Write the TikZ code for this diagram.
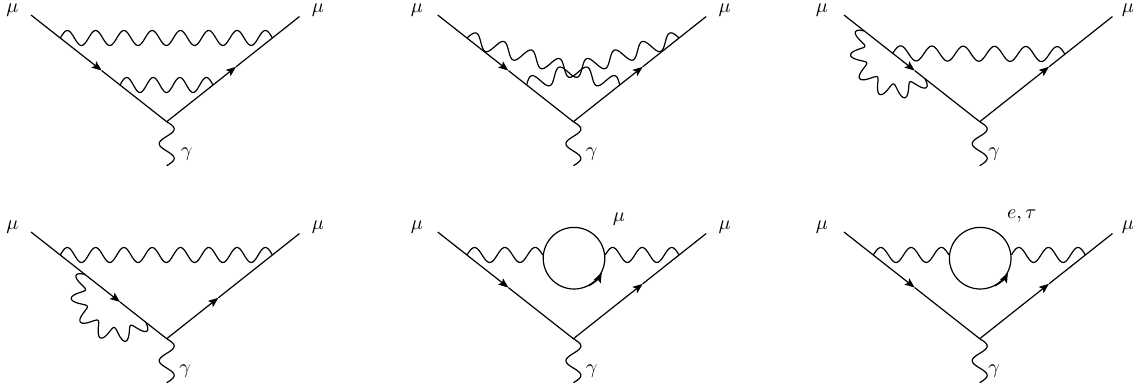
\documentclass[tikz,border=0pt]{standalone}
\usetikzlibrary{calc,arrows.meta}
\tikzset{
  wire/.style={line width=0.6pt,draw=black},
  arrowed/.style={wire,-{Stealth[length=5pt,width=3.9pt,inset=1pt]}},
  wavy/.style={line width=0.6pt,draw=black,line join=round},
  lab/.style={inner sep=0pt,text=black},
  loopring/.style={circle,draw=black,line width=0.6pt,minimum size=30.8pt,inner sep=0pt},
}
% straight photon: #1 start, #2 end, #3 half-cycles
\newcommand\wavyline[3]{%
  \pgfmathtruncatemacro\wavelast{#3*12-1}%
  \draw[wavy] (#1) \foreach \k [evaluate=\k as \d using {3.75*sin(15*\k)}] in {1,...,\wavelast} {
    -- ($(#1)!\k/(\wavelast+1)!(#2)!\d pt!90:(#2)$) } -- (#2);
}
% photon on an arc below-left of a chord: #1 start, #2 end
\newcommand\wavyarc[2]{%
  \begin{scope}[shift={($(#1)!.5!(#2)$)},rotate=-38.2,x=.5pt,y=.5pt]
    \draw[wavy] plot[domain=180:360,samples=133,variable=\p]
      ({(38.6+7*sin(11*(\p-180)))*cos(\p)},{(35+7*sin(11*(\p-180)))*sin(\p)});
  \end{scope}
}
% common vertex: #1 id, #2 dx, #3 dy, #4 t left arrow, #5 t right arrow, #6 gamma label x, #7 left mu x, #8 right mu x
\newcommand\basevertex[8]{%
  \coordinate (#1L) at (31+#2,15+#3);
  \coordinate (#1A) at (166.7+#2,121.7+#3);
  \coordinate (#1R) at (299.5+#2,16.5+#3);
  \coordinate (#1G) at (166.7+#2,165.7+#3);
  \coordinate (#1m) at ($(#1L)!#4!(#1A)$);
  \coordinate (#1n) at ($(#1A)!#5!(#1R)$);
  \draw[arrowed] (#1L) -- (#1m);
  \draw[wire] (#1m) -- (#1A);
  \draw[arrowed] (#1A) -- (#1n);
  \draw[wire] (#1n) -- (#1R);
  \wavyline{#1A}{#1G}{3}
  \node[lab] (#1gamma) at (#6,154+#3) {$\gamma$};
  \node[lab] (#1mul) at (#7,10+#3) {$\mu$};
  \node[lab] (#1mur) at (#8,10+#3) {$\mu$};
}
\begin{document}
\begin{tikzpicture}[x=.5pt,y=-.5pt]
\useasboundingbox (0,0) rectangle (1137,388);
% diagram 1
\basevertex{a}{0}{0}{.521}{.522}{186.5}{12.5}{318}
\coordinate (a1) at ($(aL)!.2156!(aA)$);
\coordinate (a2) at ($(aA)!.796!(aR)$);
\coordinate (a3) at ($(aL)!.656!(aA)$);
\coordinate (a4) at ($(aA)!.349!(aR)$);
\wavyline{a1}{a2}{15}
\wavyline{a3}{a4}{7}
% diagram 2
\basevertex{b}{406.7}{0}{.521}{.522}{591.7}{417}{724.7}
\coordinate (b1) at ($(bL)!.2156!(bA)$);
\coordinate (b2) at ($(bA)!.796!(bR)$);
\coordinate (b3) at ($(bL)!.656!(bA)$);
\coordinate (b4) at ($(bA)!.349!(bR)$);
\wavyline{b1}{b4}{11}
\wavyline{b3}{b2}{11}
% diagram 3
\basevertex{c}{813}{0}{.521}{.522}{994}{822}{1128}
\coordinate (c1) at ($(cL)!.359!(cA)$);
\coordinate (c2) at ($(cA)!.642!(cR)$);
\coordinate (c3) at ($(cL)!.15!(cA)$);
\coordinate (c4) at ($(cL)!.597!(cA)$);
\wavyline{c1}{c2}{11}
\wavyarc{c3}{c4}
% diagram 4
\basevertex{d}{0}{217}{.656}{.389}{185}{12.5}{318}
\coordinate (d1) at ($(dL)!.2156!(dA)$);
\coordinate (d2) at ($(dA)!.796!(dR)$);
\coordinate (d3) at ($(dL)!.398!(dA)$);
\coordinate (d4) at ($(dL)!.845!(dA)$);
\wavyline{d1}{d2}{15}
\wavyarc{d3}{d4}
% diagram 5
\basevertex{e}{406.7}{217}{.521}{.522}{591.7}{417}{724.7}
\node[loopring] (eloop) at (574,258.2) {};
\coordinate (e1) at ($(eL)!.2156!(eA)$);
\coordinate (e2) at ($(eA)!.796!(eR)$);
\wavyline{e1}{eloop.174}{5}
\wavyline{eloop.6}{e2}{5}
\draw[arrowed] (eloop.-62) arc[start angle=-62,end angle=-27,radius=15.4pt];
\node[lab] (emu) at (619,219) {$\mu$};
% diagram 6
\basevertex{f}{813}{217}{.521}{.522}{994}{822}{1128}
\node[loopring] (floop) at (980.2,258.2) {};
\coordinate (f1) at ($(fL)!.2156!(fA)$);
\coordinate (f2) at ($(fA)!.796!(fR)$);
\wavyline{f1}{floop.174}{5}
\wavyline{floop.6}{f2}{5}
\draw[arrowed] (floop.-62) arc[start angle=-62,end angle=-27,radius=15.4pt];
\node[lab] (fet) at (1021.7,216.5) {$e,\tau$};
\end{tikzpicture}
\end{document}
